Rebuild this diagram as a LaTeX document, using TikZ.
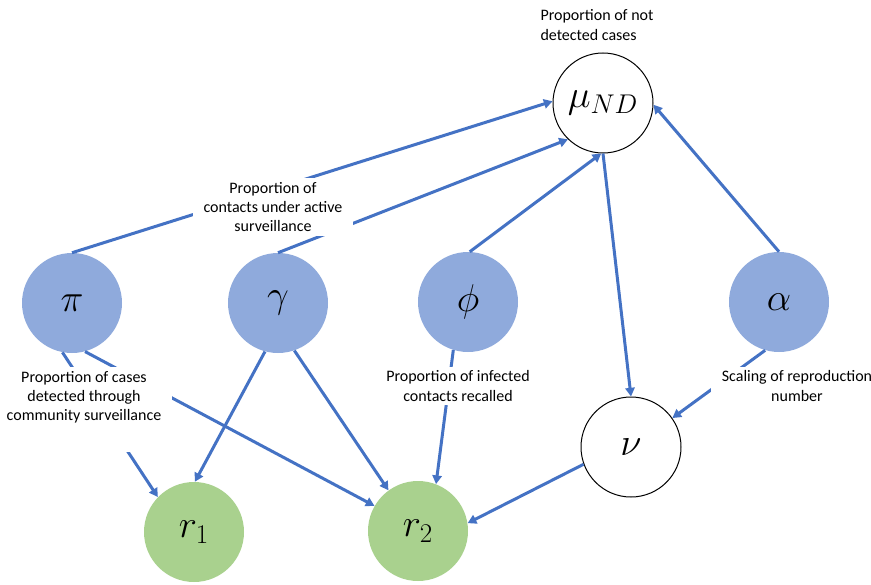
\RequirePackage{fix-cm}
\documentclass[tikz,border=0pt]{standalone}
\usepackage{fontspec}
\setmainfont{Carlito}
\usetikzlibrary{arrows.meta}
\definecolor{nodeblue}{HTML}{8FAADC}
\definecolor{nodegreen}{HTML}{A9D18E}
\definecolor{lineblue}{HTML}{4472C4}
\begin{document}
\begin{tikzpicture}[x=0.75pt, y=-0.75pt,
    circ/.style={circle, minimum size=75pt, inner sep=0pt, font=\fontsize{29}{30}\selectfont},
    param/.style={circ, fill=nodeblue},
    derived/.style={circ, draw=black, line width=0.75pt, fill=white},
    outcome/.style={circ, fill=nodegreen},
    arr/.style={draw=lineblue, line width=2.25pt, -{Triangle[length=6.5pt,width=7pt]}},
    note/.style={fill=white, align=center, inner xsep=8pt, inner ysep=3pt, font=\fontsize{12}{14.5}\selectfont}]
      \useasboundingbox (0, 0) rectangle (871, 585);
      \node[derived] (mu) at (603, 103) {$\mu_{ND}$};
      \node[param] (pi) at (72, 303) {$\pi$};
      \node[param] (gam) at (278, 303) {$\gamma$};
      \node[param] (phi) at (468, 302) {$\phi$};
      \node[param] (alpha) at (779, 302) {$\alpha$};
      \node[derived] (nu) at (631, 447) {$\nu$};
      \node[outcome] (ra) at (194, 532) {$r_1$};
      \node[outcome] (rb) at (418, 531) {$r_2$};
      \draw[arr] (pi.90) -- (mu.178);
      \draw[arr] (gam.90) -- (mu.226);
      \draw[arr] (phi.88) -- (mu.268);
      \draw[arr] (alpha.90) -- (mu.-2);
      \draw[arr] (mu.-90) -- (nu.90);
      \draw[arr] (alpha.-106) -- (nu.35);
      \draw[arr] (pi.-101) -- (ra.136);
      \draw[arr] (pi.-75) -- (rb.150);
      \draw[arr] (gam.-105) -- (ra.89);
      \draw[arr] (gam.-71) -- (rb.126);
      \draw[arr] (phi.-107) -- (rb.69);
      \draw[arr] (nu.200) -- (rb.9);
      \node[note, align=left, fill=none] (notmu) at (597, 25) {Proportion of not\\detected cases};
      \node[note] (notgam) at (273, 207) {Proportion of\\contacts under active\\surveillance};
      \node[note, anchor=north, text depth=20pt] (notpi) at (84, 367) {Proportion of cases\\detected through\\community surveillance};
      \node[note] (notphi) at (458, 386) {Proportion of infected\\contacts recalled};
      \node[note] (notalpha) at (797, 386) {Scaling of reproduction\\number};
    \end{tikzpicture}
\end{document}
